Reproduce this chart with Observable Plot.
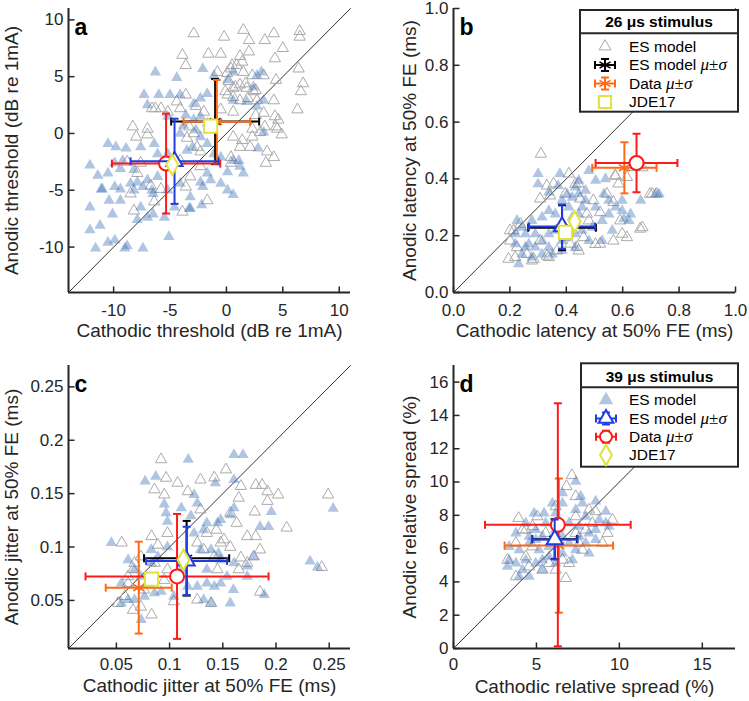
<!DOCTYPE html>
<html><head><meta charset="utf-8">
<script src="https://cdn.jsdelivr.net/npm/d3@7"></script>
<script src="https://cdn.jsdelivr.net/npm/@observablehq/plot@0.6"></script>
<style>
body{margin:0;background:#fff;}
#wrap{position:relative;width:749px;height:701px;overflow:hidden;background:#fff;}
#wrap svg{position:absolute;overflow:visible;}
</style></head><body><div id="wrap"></div>
<script>
// ---------------- DATA ----------------
// order of summary series: [ES model 26µs, Data 26µs, JDE17 26µs, ES model 39µs, Data 39µs, JDE17 39µs]
const summaryNames = ["ES model 26", "Data 26", "JDE17 26", "ES model 39", "Data 39", "JDE17 39"];

// (a) thresholds, dB re 1mA
const thrGray26 = [[-2.9,8.8],[1.5,9.1],[-0.2,8.5],[2.0,8.2],[4.2,8.8],[3.4,8.2],[6.5,9.0],[6.5,8.5],[-3.9,6.9],[-1.6,7.0],[-0.5,7.0],[1.2,6.8],[2.0,7.2],[5.0,7.5],[4.3,6.6],[-3.6,6.0],[-0.8,5.4],[0.4,5.7],[0.9,6.0],[1.5,5.4],[2.3,5.1],[3.3,5.1],[6.4,5.7],[6.8,4.4],[6.6,3.7],[4.4,4.7],[0.2,4.6],[0.6,4.0],[1.2,4.3],[1.8,4.0],[2.4,3.7],[0.6,3.2],[0.1,3.4],[1.2,2.9],[1.9,3.1],[2.7,2.9],[4.2,2.9],[6.3,2.1],[-3.6,3.4],[-4.4,2.8],[-5.8,2.2],[-6.6,2.2],[-5.2,1.9],[-2.7,2.4],[-2.0,1.9],[-0.5,2.1],[0.6,1.9],[3.3,1.8],[-8.3,0.6],[-8.0,-0.3],[-7.0,-0.1],[-7.0,0.4],[-3.3,0.6],[-2.9,0.0],[-3.5,-0.4],[-2.6,-1.2],[-2.3,-1.6],[0.6,-0.3],[1.4,-0.6],[2.3,0.4],[2.3,-0.3],[3.0,0.1],[2.1,-1.2],[1.2,-1.2],[4.4,0.6],[4.6,1.2],[4.9,-0.1],[4.5,0.4],[3.6,-1.6],[4.2,-2.1],[3.5,-2.6],[0.4,-2.1],[0.4,-2.6],[-2.3,-2.9],[-4.1,-2.4],[-8.8,-2.5],[-7.6,-2.6],[-7.9,-3.5],[-8.5,-5.3],[-1.7,-5.9],[-3.9,-6.9],[-8.2,-6.8],[-6.4,-6.0],[-3.2,-3.8],[-3.6,-4.7],[-5.8,-4.9],[-6.7,-4.6],[0.5,6.0],[1.4,6.3],[0.05,5.3],[0.8,4.1],[1.7,4.4],[2.6,3.8],[-0.1,3.7],[-6.3,2.2],[-4.1,2.2],[3.4,0.6],[2.6,1.6],[4.3,1.5]];
const thrBlue39 = [[-6.3,5.4],[-4.4,4.9],[-2.1,5.7],[-1.1,5.1],[0.6,5.4],[2.4,4.1],[3.1,5.4],[2.7,5.1],[0.1,4.7],[-7.3,3.4],[-7.0,2.5],[-6.0,3.4],[-5.0,3.4],[-4.1,3.4],[-2.9,2.6],[-2.3,3.1],[-1.7,3.5],[0.6,2.9],[1.8,2.8],[2.7,2.4],[3.3,2.9],[-5.2,1.5],[-3.6,1.6],[-2.9,1.2],[-2.3,1.5],[-3.8,0.7],[-2.7,0.3],[-1.7,0.9],[-4.1,0.0],[-2.3,-0.3],[-10.5,-0.9],[-9.8,-1.2],[-8.9,-1.3],[-7.6,-1.2],[-6.4,-0.9],[-6.1,-1.8],[-5.2,-1.8],[-3.5,-1.5],[-3.0,-1.2],[-1.7,-0.9],[-1.1,-1.8],[-0.5,-2.1],[0.6,-2.4],[1.2,-2.9],[1.5,-3.5],[2.8,-1.3],[3.3,0.1],[-12.1,-2.8],[-11.4,-3.7],[-10.5,-3.5],[-9.9,-2.6],[-9.2,-2.4],[-9.4,-3.1],[-8.2,-3.2],[-7.9,-4.3],[-7.0,-4.1],[-6.1,-3.8],[-11.1,-4.9],[-9.9,-4.7],[-9.4,-4.9],[-8.2,-5.0],[-7.4,-4.7],[-6.5,-5.3],[-5.2,-5.0],[-4.1,-4.4],[-3.2,-5.6],[-2.3,-4.3],[-1.7,-3.5],[0.1,-3.4],[-0.5,-4.4],[0.1,-5.0],[0.6,-5.4],[-10.4,-5.9],[-9.4,-5.9],[-12.1,-6.5],[-7.6,-6.5],[-7.0,-7.4],[-6.5,-7.1],[-5.5,-7.4],[-4.6,-6.5],[-3.2,-6.6],[-2.2,-6.3],[-12.1,-8.5],[-11.2,-8.1],[-10.5,-9.6],[-9.9,-9.4],[-8.8,-9.9],[-7.4,-10.1],[-11.6,-10.1],[-5.1,-9.1],[-9.0,-10.1],[-7.9,-7.6],[-8.5,-4.4],[-11.0,-4.9],[-10.1,-7.1],[-6.6,-5.0],[-2.1,-4.7],[-1.4,-4.1],[1.1,-2.4],[-3.3,-6.6]];
const thrMeanX = [-1.0, -0.85, -1.4, -4.6, -5.35, -4.8];
const thrSdX   = [3.9, 2.95, 0, 3.9, 4.8, 0];
const thrMeanY = [1.05, 1.03, 0.65, -2.45, -2.65, -2.75];
const thrSdY   = [3.75, 3.68, 0, 3.75, 4.4, 0];

// (b) latency at 50% FE, ms
const latGray26 = [[0.31,0.488],[0.355,0.383],[0.331,0.376],[0.443,0.383],[0.573,0.412],[0.585,0.383],[0.615,0.406],[0.697,0.347],[0.72,0.347],[0.544,0.347],[0.567,0.318],[0.396,0.347],[0.449,0.33],[0.496,0.324],[0.343,0.341],[0.307,0.33],[0.473,0.277],[0.52,0.282],[0.662,0.224],[0.591,0.253],[0.615,0.194],[0.567,0.182],[0.52,0.171],[0.461,0.194],[0.438,0.159],[0.237,0.241],[0.213,0.218],[0.201,0.182],[0.225,0.159],[0.26,0.135],[0.284,0.118],[0.331,0.129],[0.195,0.118],[0.307,0.182],[0.367,0.147],[0.414,0.171],[0.396,0.194],[0.67,0.229],[0.67,0.44],[0.705,0.347],[0.628,0.441],[0.575,0.41],[0.432,0.382],[0.409,0.418],[0.48,0.253],[0.598,0.206],[0.503,0.17],[0.444,0.147],[0.2,0.218],[0.219,0.124],[0.278,0.112],[0.338,0.124]];
const latBlue39 = [[0.3,0.418],[0.3,0.382],[0.377,0.418],[0.338,0.353],[0.371,0.376],[0.385,0.324],[0.421,0.335],[0.468,0.359],[0.468,0.324],[0.504,0.394],[0.539,0.4],[0.48,0.429],[0.444,0.347],[0.533,0.347],[0.551,0.324],[0.575,0.3],[0.598,0.288],[0.622,0.253],[0.664,0.324],[0.717,0.347],[0.729,0.347],[0.551,0.276],[0.527,0.253],[0.492,0.229],[0.444,0.276],[0.409,0.3],[0.361,0.276],[0.314,0.265],[0.278,0.253],[0.243,0.229],[0.219,0.206],[0.225,0.253],[0.255,0.206],[0.29,0.206],[0.314,0.182],[0.338,0.206],[0.361,0.218],[0.385,0.182],[0.432,0.206],[0.456,0.218],[0.48,0.182],[0.527,0.182],[0.563,0.218],[0.604,0.259],[0.432,0.159],[0.385,0.147],[0.338,0.159],[0.29,0.159],[0.255,0.159],[0.219,0.171],[0.243,0.135],[0.278,0.124],[0.314,0.135],[0.35,0.135],[0.231,0.1],[0.267,0.171],[0.338,0.288],[0.421,0.265],[0.456,0.3],[0.504,0.3],[0.432,0.371],[0.403,0.347],[0.444,0.394],[0.598,0.324],[0.628,0.276]];
const latMeanX = [0.385, 0.606, 0.397, 0.385, 0.649, 0.43];
const latSdX   = [0.12, 0.114, 0, 0.117, 0.145, 0];
const latMeanY = [0.228, 0.439, 0.212, 0.232, 0.456, 0.25];
const latSdY   = [0.079, 0.09, 0, 0.078, 0.103, 0];

// (c) jitter at 50% FE, ms
const jitGray26 = [[0.092,0.182],[0.0858,0.1538],[0.095,0.149],[0.0967,0.1647],[0.1075,0.16],[0.129,0.163],[0.117,0.152],[0.142,0.165],[0.153,0.1725],[0.167,0.157],[0.181,0.158],[0.187,0.158],[0.192,0.152],[0.202,0.149],[0.165,0.146],[0.18,0.133],[0.192,0.143],[0.21,0.118],[0.249,0.149],[0.243,0.081],[0.129,0.135],[0.157,0.132],[0.163,0.1225],[0.173,0.11],[0.181,0.11],[0.185,0.0975],[0.167,0.09],[0.179,0.091],[0.173,0.085],[0.165,0.079],[0.157,0.1],[0.151,0.107],[0.144,0.116],[0.135,0.113],[0.126,0.104],[0.142,0.091],[0.132,0.0975],[0.145,0.079],[0.185,0.058],[0.139,0.0475],[0.126,0.0506],[0.104,0.049],[0.086,0.085],[0.073,0.091],[0.067,0.085],[0.055,0.104],[0.083,0.11],[0.098,0.113],[0.089,0.102],[0.061,0.066],[0.058,0.054],[0.0516,0.0475],[0.0656,0.041],[0.073,0.044],[0.083,0.0366],[0.076,0.06],[0.095,0.069],[0.0656,0.079],[0.061,0.0725],[0.0796,0.066],[0.098,0.079],[0.148,0.104]];
const jitBlue39 = [[0.1175,0.182],[0.1605,0.1865],[0.169,0.1865],[0.077,0.1616],[0.087,0.166],[0.143,0.16],[0.1605,0.163],[0.123,0.149],[0.126,0.141],[0.095,0.14],[0.111,0.1366],[0.1605,0.1366],[0.157,0.13],[0.1956,0.133],[0.2537,0.136],[0.185,0.119],[0.193,0.119],[0.0967,0.132],[0.098,0.124],[0.12,0.129],[0.135,0.1225],[0.145,0.1225],[0.148,0.1256],[0.123,0.113],[0.132,0.116],[0.0453,0.104],[0.0827,0.0975],[0.089,0.091],[0.098,0.1],[0.129,0.0975],[0.139,0.0975],[0.146,0.094],[0.148,0.088],[0.1605,0.085],[0.173,0.082],[0.179,0.091],[0.232,0.0866],[0.239,0.081],[0.061,0.088],[0.067,0.079],[0.073,0.0725],[0.0796,0.066],[0.0858,0.057],[0.0764,0.0538],[0.067,0.0506],[0.0547,0.0475],[0.0733,0.032],[0.092,0.0584],[0.104,0.0538],[0.117,0.063],[0.126,0.063],[0.135,0.066],[0.142,0.063],[0.148,0.066],[0.132,0.0506],[0.139,0.0475],[0.157,0.0475],[0.16,0.06],[0.173,0.0725],[0.189,0.0553],[0.083,0.085],[0.111,0.079],[0.135,0.079],[0.154,0.0725],[0.0547,0.066],[0.061,0.0506]];
const jitMeanX = [0.116, 0.071, 0.083, 0.116, 0.107, 0.113];
const jitSdX   = [0.040, 0.031, 0, 0.038, 0.086, 0];
const jitMeanY = [0.0895, 0.062, 0.07, 0.087, 0.0725, 0.088];
const jitSdY   = [0.035, 0.043, 0, 0.032, 0.0585, 0];

// (d) relative spread, %
const rsGray26 = [[7.13,10.4],[6.81,9.74],[3.92,7.83],[3.25,5.32],[3.76,4.32],[6.77,4.22],[9.58,7.73],[9.28,6.93],[8.57,8.23],[5.06,7.93],[4.36,7.13],[4.76,6.12],[5.76,5.12],[7.37,7.93],[7.97,7.13],[7.57,6.33],[6.57,5.32],[6.97,5.12],[6.16,4.72],[5.36,4.72],[4.56,4.92],[3.76,6.33],[4.16,7.13],[5.56,6.93],[8.37,7.53],[8.98,6.33],[7.37,9.14],[6.16,8.53],[7.77,5.92],[8.17,8.33],[4.76,7.33],[4.36,5.52],[7.37,6.93]];
const rsBlue39 = [[7.37,10.04],[7.67,9.14],[6.57,9.34],[8.57,8.84],[9.18,8.23],[6.57,8.73],[5.96,8.73],[4.86,8.13],[5.46,8.13],[6.16,8.13],[7.37,8.33],[7.97,7.93],[8.78,7.73],[9.38,7.33],[3.76,6.93],[4.36,7.53],[4.96,7.13],[5.56,7.53],[6.97,7.53],[7.57,7.33],[8.17,6.93],[8.57,7.13],[3.35,6.12],[3.96,5.92],[4.56,6.33],[5.16,5.92],[5.76,6.12],[6.97,6.33],[7.57,6.73],[7.97,6.33],[3.25,4.92],[3.76,5.12],[4.16,4.72],[4.56,4.32],[4.96,5.12],[5.36,5.32],[5.76,5.52],[6.57,5.72],[7.37,5.92],[8.17,5.72],[6.16,5.12],[5.36,4.72],[3.96,4.32],[6.57,6.73],[4.96,6.53],[8.57,6.53],[9.18,7.53],[4.36,5.32],[7.17,5.32],[7.77,8.73],[5.36,6.73],[6.16,7.13],[4.56,6.73],[3.35,5.32]];
const rsMeanX = [6.1, 6.35, null, 6.1, 6.29, null];
const rsSdX   = [1.35, 3.27, 0, 1.38, 4.39, 0];
const rsMeanY = [6.57, 6.18, null, 6.55, 7.43, null];
const rsSdY   = [1.2, 4.03, 0, 1.2, 7.3, 0];

// axes
const thrTicks = [-10, -5, 0, 5, 10];
const latTicks = [0, 0.2, 0.4, 0.6, 0.8, 1.0];
const jitTicks = [0.05, 0.1, 0.15, 0.2, 0.25];
const rsTicksX = [0, 5, 10, 15];
const rsTicksY = [0, 2, 4, 6, 8, 10, 12, 14, 16];
const thrDomain = [-14, 11];
const latDomain = [0, 1];
const jitDomain = [0.005, 0.27];
const rsDomain = [0, 17];

// ---------------- STYLE ----------------
const FONT = '"Liberation Sans", Arial, Helvetica, sans-serif';
const MATH = '"Liberation Serif", "DejaVu Serif", serif';
const INK = "#262626";
const COL = {black:"#000000", orange:"#ff6a14", yellow:"#e2e23a", blue:"#1f3de0", red:"#ff1a1a", gray:"#ababab", fillBlue:"#3a6db4"};
const seriesStyle = [
  {color: COL.black,  symbol: "asterisk", r: 6,   fill: "none",  sw: 1.6},
  {color: COL.orange, symbol: "asterisk", r: 6,   fill: "none",  sw: 1.6},
  {color: COL.yellow, symbol: "square",   r: 7.5, fill: "white", sw: 2},
  {color: COL.blue,   symbol: "triangle", r: 6,   fill: "white", sw: 2},
  {color: COL.red,    symbol: "circle",   r: 7,   fill: "white", sw: 2},
  {color: COL.yellow, symbol: "diamond",  r: 6.2, fill: "white", sw: 2}
];
const drawOrder = [0, 1, 4, 3, 2, 5];
const capV = {draw(ctx, size) { const r = Math.sqrt(size / Math.PI); ctx.moveTo(0, -r); ctx.lineTo(0, r); }};
const capH = {draw(ctx, size) { const r = Math.sqrt(size / Math.PI); ctx.moveTo(-r, 0); ctx.lineTo(r, 0); }};

function makePanel(cfg) {
  const {xDomain, yDomain, xTicks, yTicks, fmtX, fmtY, gray, blue, mx, sx, my, sy,
         xLabel, yLabel, letter, left, top, width, height, margin, xLabelDy, yLabelDx, tickPad} = cfg;
  const fw = width - margin.left - margin.right, fh = height - margin.top - margin.bottom;
  const tLenY = (yDomain[1] - yDomain[0]) * 6 / fh;
  const tLenX = (xDomain[1] - xDomain[0]) * 6 / fw;
  const marks = [];
  marks.push(Plot.line([[xDomain[0], yDomain[0]], [xDomain[1], yDomain[1]]], {x: d => d[0], y: d => d[1], stroke: "#000", strokeWidth: 0.8}));
  marks.push(Plot.dot(gray, {x: d => d[0], y: d => d[1], symbol: "triangle", r: 4.2, fill: "none", stroke: COL.gray, strokeWidth: 1}));
  marks.push(Plot.dot(blue, {x: d => d[0], y: d => d[1], symbol: "triangle", r: 4.2, fill: COL.fillBlue, fillOpacity: 0.4, stroke: "none"}));
  for (const i of drawOrder) {
    if (mx[i] == null) continue;
    const st = seriesStyle[i];
    const row = [{x: mx[i], sx: sx[i] || 0, y: my[i], sy: sy[i] || 0}];
    if (row[0].sx > 0) {
      marks.push(Plot.link(row, {x1: d => d.x - d.sx, x2: d => d.x + d.sx, y1: d => d.y, y2: d => d.y, stroke: st.color, strokeWidth: 2}));
      marks.push(Plot.dot(row, {x: d => d.x - d.sx, y: d => d.y, symbol: capV, r: 4, fill: "none", stroke: st.color, strokeWidth: 2}));
      marks.push(Plot.dot(row, {x: d => d.x + d.sx, y: d => d.y, symbol: capV, r: 4, fill: "none", stroke: st.color, strokeWidth: 2}));
    }
    if (row[0].sy > 0) {
      marks.push(Plot.link(row, {x1: d => d.x, x2: d => d.x, y1: d => d.y - d.sy, y2: d => d.y + d.sy, stroke: st.color, strokeWidth: 2}));
      marks.push(Plot.dot(row, {x: d => d.x, y: d => d.y - d.sy, symbol: capH, r: 4, fill: "none", stroke: st.color, strokeWidth: 2}));
      marks.push(Plot.dot(row, {x: d => d.x, y: d => d.y + d.sy, symbol: capH, r: 4, fill: "none", stroke: st.color, strokeWidth: 2}));
    }
    marks.push(Plot.dot(row, {x: "x", y: "y", symbol: st.symbol, r: st.r, fill: st.fill, stroke: st.color, strokeWidth: st.sw}));
  }
  // axes lines & inward ticks
  marks.push(Plot.ruleX([xDomain[0]], {stroke: INK, strokeWidth: 2}));
  marks.push(Plot.ruleY([yDomain[0]], {stroke: INK, strokeWidth: 2}));
  marks.push(Plot.link(xTicks, {x1: d => d, x2: d => d, y1: () => yDomain[0], y2: () => yDomain[0] + tLenY, stroke: INK, strokeWidth: 1.5}));
  marks.push(Plot.link(yTicks, {y1: d => d, y2: d => d, x1: () => xDomain[0], x2: () => xDomain[0] + tLenX, stroke: INK, strokeWidth: 1.5}));
  marks.push(Plot.axisX({ticks: xTicks, tickSize: 0, tickPadding: tickPad, tickFormat: fmtX, fontSize: 17, label: null}));
  marks.push(Plot.axisY({ticks: yTicks, tickSize: 0, tickPadding: 5, tickFormat: fmtY, fontSize: 17, label: null}));
  marks.push(Plot.text([xLabel], {text: d => d, frameAnchor: "bottom", dy: xLabelDy, textAnchor: "middle", lineAnchor: "middle", fontSize: 19, fill: INK}));
  marks.push(Plot.text([yLabel], {text: d => d, frameAnchor: "left", dx: yLabelDx, rotate: -90, textAnchor: "middle", lineAnchor: "middle", fontSize: 19, fill: INK}));
  marks.push(Plot.text([letter], {text: d => d, frameAnchor: "top-left", dx: 6, dy: 19, textAnchor: "start", lineAnchor: "middle", fontSize: 23, fontWeight: "bold", fill: "#000"}));
  const svg = Plot.plot({
    width, height,
    marginLeft: margin.left, marginRight: margin.right, marginTop: margin.top, marginBottom: margin.bottom,
    x: {domain: xDomain}, y: {domain: yDomain},
    style: {fontFamily: FONT, fontSize: "17px", color: INK, background: "transparent", overflow: "visible"},
    marks
  });
  svg.style.left = left + "px";
  svg.style.top = top + "px";
  svg.style.maxWidth = "none";
  return svg;
}

function legend(svg, L) {
  const g = d3.select(svg).append("g").style("font-family", FONT).attr("fill", "#000").attr("text-anchor", "start");
  g.append("rect").attr("x", L.x).attr("y", L.y).attr("width", L.w).attr("height", L.h)
    .attr("fill", "white").attr("stroke", INK).attr("stroke-width", 2);
  g.append("line").attr("x1", L.x).attr("x2", L.x + L.w).attr("y1", L.sep).attr("y2", L.sep).attr("stroke", INK).attr("stroke-width", 2);
  g.append("text").attr("x", L.x + L.w / 2).attr("y", L.titleY).attr("text-anchor", "middle")
    .style("font-size", "15.5px").style("font-weight", "bold").text(L.title);
  L.rows.forEach((r, k) => {
    const cy = L.rowY[k], cx = L.symX;
    const s = seriesStyle[r.style];
    if (r.kind === "scatter") {
      g.append("path").attr("transform", `translate(${cx},${cy})`)
        .attr("d", d3.symbol(d3.symbolTriangle, r.size)())
        .attr("fill", r.fill).attr("fill-opacity", r.fillOpacity).attr("stroke", r.stroke).attr("stroke-width", 1);
    } else if (r.kind === "eb") {
      const c = s.color;
      const ln = (x1, y1, x2, y2) => g.append("line").attr("x1", x1).attr("y1", y1).attr("x2", x2).attr("y2", y2).attr("stroke", c).attr("stroke-width", 2);
      ln(cx - 10, cy, cx + 10, cy); ln(cx, cy - 6, cx, cy + 6);
      ln(cx - 10, cy - 4, cx - 10, cy + 4); ln(cx + 10, cy - 4, cx + 10, cy + 4);
      ln(cx - 4, cy - 6, cx + 4, cy - 6); ln(cx - 4, cy + 6, cx + 4, cy + 6);
      const type = {asterisk: d3.symbolAsterisk, triangle: d3.symbolTriangle, circle: d3.symbolCircle}[s.symbol];
      g.append("path").attr("transform", `translate(${cx},${cy})`)
        .attr("d", d3.symbol(type, Math.PI * r.r * r.r)())
        .attr("fill", s.fill).attr("stroke", c).attr("stroke-width", s.sw);
    } else {
      const type = {square: d3.symbolSquare, diamond: d3.symbolDiamond}[s.symbol];
      g.append("path").attr("transform", `translate(${cx},${cy})`)
        .attr("d", d3.symbol(type, r.size)())
        .attr("fill", "none").attr("stroke", s.color).attr("stroke-width", 2);
    }
    const t = g.append("text").attr("x", L.textX).attr("y", cy).attr("dy", "0.35em").attr("text-anchor", "start").style("font-size", "15.5px");
    t.append("tspan").text(r.label);
    if (r.math) {
      t.append("tspan").text(" ");
      t.append("tspan").style("font-family", MATH).style("font-style", "italic").style("font-size", "17px").text("μ");
      t.append("tspan").style("font-family", MATH).style("font-size", "17px").text("±");
      t.append("tspan").style("font-family", MATH).style("font-style", "italic").style("font-size", "17px").text("σ");
    }
  });
}

const wrap = document.getElementById("wrap");
const f1 = d => String(d);
const f2 = d => d.toFixed(1);

const pa = makePanel({xDomain: thrDomain, yDomain: thrDomain, xTicks: thrTicks, yTicks: thrTicks, fmtX: f1, fmtY: f1,
  gray: thrGray26, blue: thrBlue39, mx: thrMeanX, sx: thrSdX, my: thrMeanY, sy: thrSdY,
  xLabel: "Cathodic threshold (dB re 1mA)", yLabel: "Anodic threshold (dB re 1mA)", letter: "a",
  left: 0, top: 0, width: 375, height: 350, margin: {left: 68, right: 25, top: 8, bottom: 58}, xLabelDy: 38, yLabelDx: -57, tickPad: 11});
const pb = makePanel({xDomain: latDomain, yDomain: latDomain, xTicks: latTicks, yTicks: latTicks, fmtX: f2, fmtY: f2,
  gray: latGray26, blue: latBlue39, mx: latMeanX, sx: latSdX, my: latMeanY, sy: latSdY,
  xLabel: "Cathodic latency at 50% FE (ms)", yLabel: "Anodic latency at 50% FE (ms)", letter: "b",
  left: 375, top: 0, width: 374, height: 350, margin: {left: 78, right: 14, top: 8, bottom: 58}, xLabelDy: 38, yLabelDx: -44, tickPad: 11});
const pc = makePanel({xDomain: jitDomain, yDomain: jitDomain, xTicks: jitTicks, yTicks: jitTicks, fmtX: f1, fmtY: f1,
  gray: jitGray26, blue: jitBlue39, mx: jitMeanX, sx: jitSdX, my: jitMeanY, sy: jitSdY,
  xLabel: "Cathodic jitter at 50% FE (ms)", yLabel: "Anodic jitter at 50% FE (ms)", letter: "c",
  left: 0, top: 350, width: 375, height: 351, margin: {left: 68, right: 25, top: 15, bottom: 53}, xLabelDy: 37, yLabelDx: -57, tickPad: 9});
const pd = makePanel({xDomain: rsDomain, yDomain: rsDomain, xTicks: rsTicksX, yTicks: rsTicksY, fmtX: f1, fmtY: f1,
  gray: rsGray26, blue: rsBlue39, mx: rsMeanX, sx: rsSdX, my: rsMeanY, sy: rsSdY,
  xLabel: "Cathodic relative spread (%)", yLabel: "Anodic relative spread (%)", letter: "d",
  left: 375, top: 350, width: 374, height: 351, margin: {left: 78, right: 14, top: 15, bottom: 53}, xLabelDy: 38, yLabelDx: -44, tickPad: 9});

legend(pb, {x: 205, y: 10, w: 158, h: 101.7, sep: 33.3, titleY: 27, title: "26 μs stimulus",
  symX: 230, textX: 254, rowY: [46.5, 65, 83.5, 102],
  rows: [
    {kind: "scatter", label: "ES model", size: 60, fill: "none", fillOpacity: 1, stroke: COL.gray, style: 0},
    {kind: "eb", label: "ES model", math: true, style: 0, r: 6},
    {kind: "eb", label: "Data", math: true, style: 1, r: 6},
    {kind: "marker", label: "JDE17", style: 2, size: 150}
  ]});
legend(pd, {x: 206, y: 13.3, w: 157, h: 103.4, sep: 37.3, titleY: 31.7, title: "39 μs stimulus",
  symX: 231, textX: 254, rowY: [50, 68.5, 86.7, 105],
  rows: [
    {kind: "scatter", label: "ES model", size: 90, fill: COL.fillBlue, fillOpacity: 0.4, stroke: "none", style: 3},
    {kind: "eb", label: "ES model", math: true, style: 3, r: 5.5},
    {kind: "eb", label: "Data", math: true, style: 4, r: 6},
    {kind: "marker", label: "JDE17", style: 5, size: 120}
  ]});

wrap.append(pa, pb, pc, pd);
</script>
</body></html>
